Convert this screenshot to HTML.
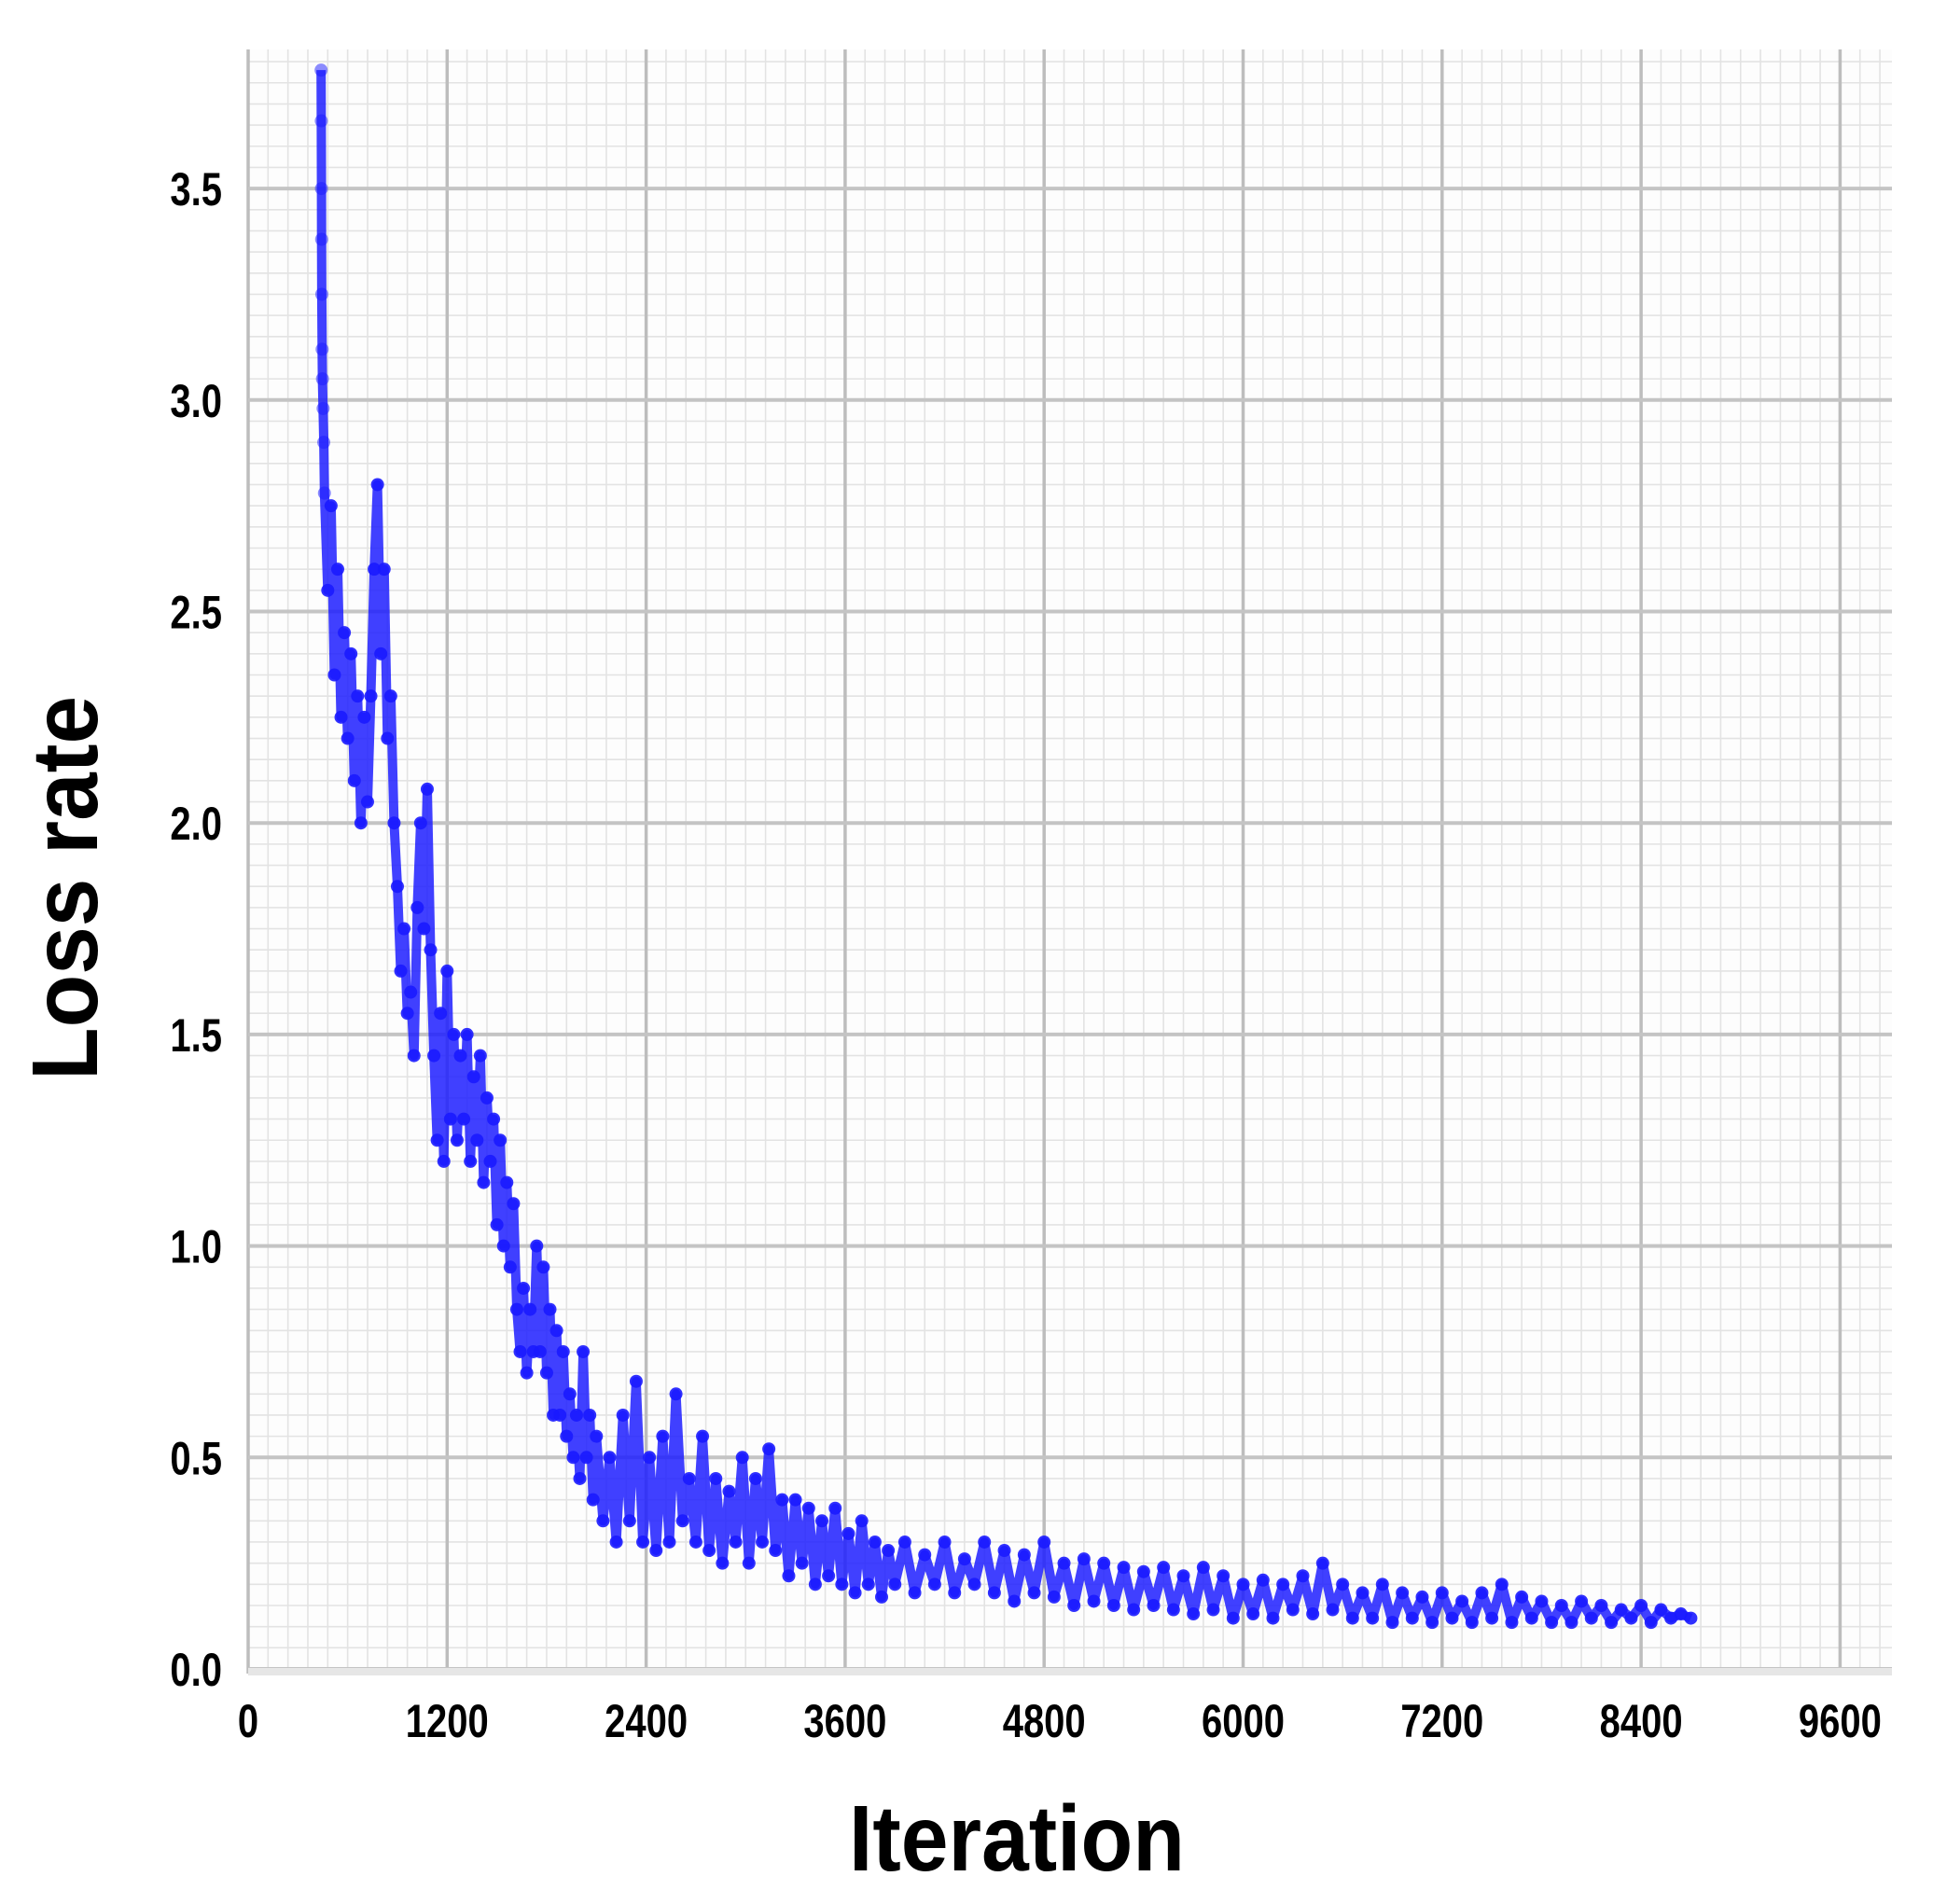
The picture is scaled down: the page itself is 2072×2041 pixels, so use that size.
<!DOCTYPE html>
<html><head><meta charset="utf-8"><style>
html,body{margin:0;padding:0;background:#fff}
svg{display:block}
text{font-family:"Liberation Sans",sans-serif;font-weight:bold;fill:#000}
</style></head><body>
<svg id="chart" width="2072" height="2041" viewBox="0 0 2072 2041">
<g id="grid"></g>
<g id="series"></g>
<g id="ticks"></g>
<text x="1090" y="2005" font-size="100" text-anchor="middle" textLength="360" lengthAdjust="spacingAndGlyphs">Iteration</text>
<text transform="translate(104,952) rotate(-90)" x="0" y="0" font-size="100" text-anchor="middle" textLength="412" lengthAdjust="spacingAndGlyphs">Loss rate</text>
</svg>
<script>
const xTicks=[0,1200,2400,3600,4800,6000,7200,8400,9600];
const yTicks=[0.0,0.5,1.0,1.5,2.0,2.5,3.0,3.5];
const yTickLabels=["0.0","0.5","1.0","1.5","2.0","2.5","3.0","3.5"];
const iters=[440,441,442,443,444,446,448,452,456,460,480,500,520,540,560,580,600,620,640,660,680,700,720,740,760,780,800,820,840,860,880,900,920,940,960,980,1000,1020,1040,1060,1080,1100,1120,1140,1160,1180,1200,1220,1240,1260,1280,1300,1320,1340,1360,1380,1400,1420,1440,1460,1480,1500,1520,1540,1560,1580,1600,1620,1640,1660,1680,1700,1720,1740,1760,1780,1800,1820,1840,1860,1880,1900,1920,1940,1960,1980,2000,2020,2040,2060,2080,2100,2140,2180,2220,2260,2300,2340,2380,2420,2460,2500,2540,2580,2620,2660,2700,2740,2780,2820,2860,2900,2940,2980,3020,3060,3100,3140,3180,3220,3260,3300,3340,3380,3420,3460,3500,3540,3580,3620,3660,3700,3740,3780,3820,3860,3900,3960,4020,4080,4140,4200,4260,4320,4380,4440,4500,4560,4620,4680,4740,4800,4860,4920,4980,5040,5100,5160,5220,5280,5340,5400,5460,5520,5580,5640,5700,5760,5820,5880,5940,6000,6060,6120,6180,6240,6300,6360,6420,6480,6540,6600,6660,6720,6780,6840,6900,6960,7020,7080,7140,7200,7260,7320,7380,7440,7500,7560,7620,7680,7740,7800,7860,7920,7980,8040,8100,8160,8220,8280,8340,8400,8460,8520,8580,8640,8700];
const loss=[3.78,3.66,3.50,3.38,3.25,3.12,3.05,2.98,2.90,2.78,2.55,2.75,2.35,2.6,2.25,2.45,2.2,2.4,2.1,2.3,2.0,2.25,2.05,2.3,2.6,2.8,2.4,2.6,2.2,2.3,2.0,1.85,1.65,1.75,1.55,1.6,1.45,1.8,2.0,1.75,2.08,1.7,1.45,1.25,1.55,1.2,1.65,1.3,1.5,1.25,1.45,1.3,1.5,1.2,1.4,1.25,1.45,1.15,1.35,1.2,1.3,1.05,1.25,1.0,1.15,0.95,1.1,0.85,0.75,0.9,0.7,0.85,0.75,1.0,0.75,0.95,0.7,0.85,0.6,0.8,0.6,0.75,0.55,0.65,0.5,0.6,0.45,0.75,0.5,0.6,0.4,0.55,0.35,0.5,0.3,0.6,0.35,0.68,0.3,0.5,0.28,0.55,0.3,0.65,0.35,0.45,0.3,0.55,0.28,0.45,0.25,0.42,0.3,0.5,0.25,0.45,0.3,0.52,0.28,0.4,0.22,0.4,0.25,0.38,0.2,0.35,0.22,0.38,0.2,0.32,0.18,0.35,0.2,0.3,0.17,0.28,0.2,0.3,0.18,0.27,0.2,0.3,0.18,0.26,0.2,0.3,0.18,0.28,0.16,0.27,0.18,0.3,0.17,0.25,0.15,0.26,0.16,0.25,0.15,0.24,0.14,0.23,0.15,0.24,0.14,0.22,0.13,0.24,0.14,0.22,0.12,0.2,0.13,0.21,0.12,0.2,0.14,0.22,0.13,0.25,0.14,0.2,0.12,0.18,0.12,0.2,0.11,0.18,0.12,0.17,0.11,0.18,0.12,0.16,0.11,0.18,0.12,0.2,0.11,0.17,0.12,0.16,0.11,0.15,0.11,0.16,0.12,0.15,0.11,0.14,0.12,0.15,0.11,0.14,0.12,0.13,0.12];

const NS="http://www.w3.org/2000/svg";
const L=266,R=2028,T=53,B=1794;
const X0=266,XPX=213.3/1200;
const Y0=1789,YPX=226.7/0.5;
const xs=v=>X0+v*XPX;
const ys=v=>Y0-v*YPX;
function mk(tag,attrs,parent){const e=document.createElementNS(NS,tag);for(const k in attrs)e.setAttribute(k,attrs[k]);parent.appendChild(e);return e;}
const grid=document.getElementById('grid');
mk('rect',{x:L,y:T,width:R-L,height:B-T,fill:'#fdfdfd'},grid);
for(let v=0;v<=9900;v+=120){const x=xs(v);if(x>R)break;
 const l=mk('line',{x1:x,x2:x,y1:T,y2:B,stroke:'#e3e3e3','stroke-width':1.6},grid);
 
 }
for(let v=0;v<=3.95;v+=0.05){const y=ys(v);if(y<T)break;
 const l=mk('line',{x1:L,x2:R,y1:y,y2:y,stroke:'#e3e3e3','stroke-width':1.6},grid);
 
 }
const ticks=document.getElementById('ticks');
xTicks.forEach(v=>{const x=xs(v);
 const l=mk('line',{x1:x,x2:x,y1:T,y2:B,stroke:'#bdbdbd','stroke-width':3.5},grid);
 
 
 const t=mk('text',{x:x/0.8,y:1862,'font-size':50,'text-anchor':'middle',transform:'scale(0.8,1)'},ticks);
 t.textContent=String(v);
 
 });
yTicks.forEach((v,i)=>{const y=ys(v);
 const l=mk('line',{x1:L,x2:R,y1:y,y2:y,stroke:'#c4c4c4','stroke-width':4},grid);
 
 
 const t=mk('text',{x:238/0.8,y:y+18,'font-size':50,'text-anchor':'end',transform:'scale(0.8,1)'},ticks);
 t.textContent=yTickLabels[i];
 
 });
mk('rect',{x:L,y:B-6,width:R-L,height:8,fill:'#e6e6e6'},grid);
const series=document.getElementById('series');
const pts=iters.map((v,i)=>xs(v).toFixed(1)+','+ys(loss[i]).toFixed(1)).join(' ');
const pl=mk('polyline',{points:pts,fill:'none',stroke:'#1f1fff','stroke-width':10,'stroke-linejoin':'round','stroke-opacity':0.85},series);


iters.forEach((v,i)=>{const c=mk('circle',{cx:xs(v),cy:ys(loss[i]),r:7,fill:'#1a1aff','fill-opacity':i<10?0.5:0.9},series);
 
 });
</script>
</body></html>
